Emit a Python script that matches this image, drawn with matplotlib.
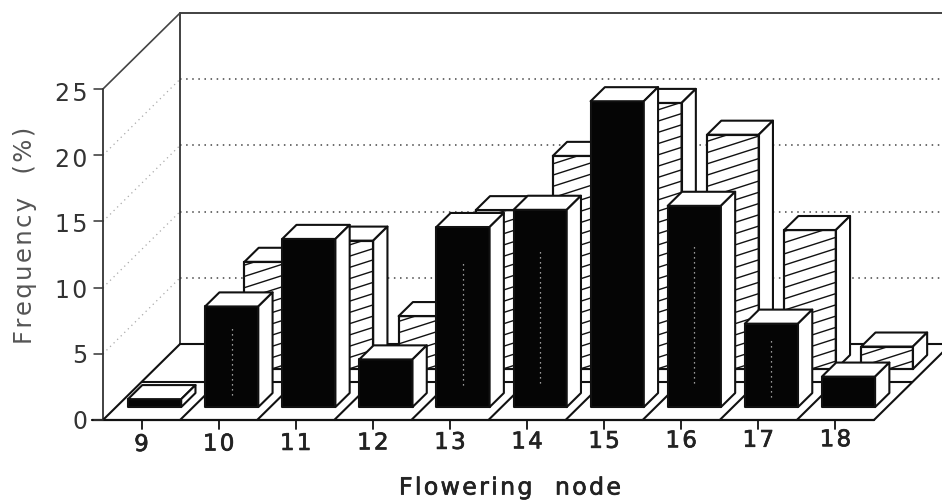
import numpy as np
import matplotlib.pyplot as plt
import matplotlib.patheffects as pe

nodes = [9, 10, 11, 12, 13, 14, 15, 16, 17, 18]
front_values = [0.6, 7.6, 12.7, 3.6, 13.6, 14.9, 23.1, 15.2, 6.3, 2.3]
back_values = [0, 8.1, 9.7, 4.0, 12.0, 16.1, 20.1, 17.7, 10.5, 1.7]
y_ticks = [0, 5, 10, 15, 20, 25]
streak_nodes = [10, 13, 14, 16, 17]

# oblique projection: one unit of depth moves this far in data units
DX = 1.0
DY = 5.74
INK = '#111111'
HAIR = '\u200a'

plt.rcParams['font.family'] = ['DejaVu Sans']

fig = plt.figure(figsize=(9.42, 5.02), dpi=100)
ax = fig.add_axes([0, 0, 1, 1])
ax.set_xlim(9 - 141.5 / 77.1, 9 + (942 - 141.5) / 77.1)
ax.set_ylim(-(502 - 421) / 13.24, 421 / 13.24)
ax.axis('off')


def proj(x, depth, value):
    return x + depth * DX, value + depth * DY


def edge_line(x0, d0, v0, x1, d1, v1, **kw):
    p0 = proj(x0, d0, v0)
    p1 = proj(x1, d1, v1)
    style = dict(color=INK, lw=1.5, zorder=2, solid_capstyle='round')
    style.update(kw)
    ax.plot([p0[0], p1[0]], [p0[1], p1[1]], **style)


def draw_bar(node, value, d0, d1, width, face, z):
    left = node - width / 2
    right = node + width / 2
    corners = {
        'front': [(left, d0, 0), (right, d0, 0), (right, d0, value), (left, d0, value)],
        'top': [(left, d0, value), (right, d0, value), (right, d1, value), (left, d1, value)],
        'side': [(right, d0, 0), (right, d1, 0), (right, d1, value), (right, d0, value)],
    }
    for name, pts in corners.items():
        xy = [proj(*p) for p in pts]
        ax.fill([p[0] for p in xy], [p[1] for p in xy],
                facecolor=face if name == 'front' else 'white',
                edgecolor=INK, lw=1.5, joinstyle='round', zorder=z)
    return left, right


def spaced(s):
    return HAIR.join(s)


def heavier(text, color):
    text.set_path_effects([pe.withStroke(linewidth=0.5, foreground=color)])


x_min = 8.5
x_max = 18.5
wall_top = 25

# back wall and left wall
edge_line(x_min, 1, 0, x_min, 1, wall_top, lw=1.3, color='#333333')
edge_line(x_min, 1, wall_top, x_max + 1, 1, wall_top, lw=1.3, color='#333333')
edge_line(x_min, 0, 0, x_min, 0, wall_top, lw=1.3, color='#333333')
edge_line(x_min, 0, wall_top, x_min, 1, wall_top, lw=1.2, color='#444444')
for v in y_ticks[1:-1]:
    edge_line(x_min, 1, v, x_max + 1, 1, v, lw=1.1, color='#444444',
              linestyle=(0, (1, 3)), zorder=1)
    edge_line(x_min, 0, v, x_min, 1, v, lw=0.9, color='#aaaaaa',
              linestyle=(0, (1, 3)), zorder=1)

# floor
edge_line(x_min - 0.14, 0, 0, x_max, 0, 0, lw=1.6)
edge_line(x_min, 1, 0, x_max + 1, 1, 0, lw=1.5)
edge_line(x_min, 0, 0, x_min, 1, 0, lw=1.5)
edge_line(x_max, 0, 0, x_max, 1, 0, lw=1.5)
edge_line(x_min, 0.5, 0, x_max, 0.5, 0, lw=1.5)
for n in nodes[:-1]:
    edge_line(n + 0.5, 0, 0, n + 0.5, 0.5, 0, lw=1.5)

# hatched row at the back
for n, v in zip(nodes, back_values):
    if v <= 0:
        continue
    left, right = draw_bar(n, v, 0.67, 0.855, 0.67, 'white', 3)
    x0, y0 = proj(left, 0.67, 0)
    x1, y1 = proj(right, 0.67, v)
    clip = plt.Rectangle((x0, y0), x1 - x0, y1 - y0, transform=ax.transData)
    rise = 1.25
    for c in np.arange(y0 - rise + 0.6, y1, 0.85):
        line, = ax.plot([x0, x1], [c, c + rise], color=INK, lw=1.0, zorder=3.5)
        line.set_clip_path(clip)
    ax.add_patch(plt.Rectangle((x0, y0), x1 - x0, y1 - y0, fill=False,
                               edgecolor=INK, lw=1.5, zorder=3.6))

# solid row at the front
for n, v in zip(nodes, front_values):
    draw_bar(n, v, 0.17, 0.355, 0.69, '#050505', 4)
    if n in streak_nodes:
        x, y = proj(n, 0.17, v * 0.12)
        xt, yt = proj(n, 0.17, v * 0.8)
        ax.plot([x, xt], [y, yt], color='#cccccc', lw=0.9,
                linestyle=(0, (1, 3)), zorder=4.5)

# ticks and labels
for v in y_ticks:
    edge_line(x_min - 0.11, 0, v, x_min, 0, v, lw=1.1, color='#333333')
    ax.text(x_min - 0.2, v * 0.99 - 0.05, spaced(str(v)), ha='right', va='center',
            fontsize=17, color='#333333')
for i, n in enumerate(nodes):
    edge_line(n, 0, 0, n, 0, -0.7, lw=1.3)
    t = ax.text(n, -1.85 + i * 0.04, spaced(str(n)), ha='center', va='center',
                fontsize=16.5, color='#222222')
    heavier(t, '#222222')

t = ax.text(13.78, -5.1, spaced('Flowering') + '   ' + spaced('node'), ha='center',
            va='center', fontsize=17, color='#222222')
heavier(t, '#222222')
ax.text(7.49, 14.0, spaced('Frequency') + '   ' + spaced('(%)'), rotation=90,
        ha='center', va='center', fontsize=17.5, color='#555555')

fig.savefig('out.png', dpi=100)
